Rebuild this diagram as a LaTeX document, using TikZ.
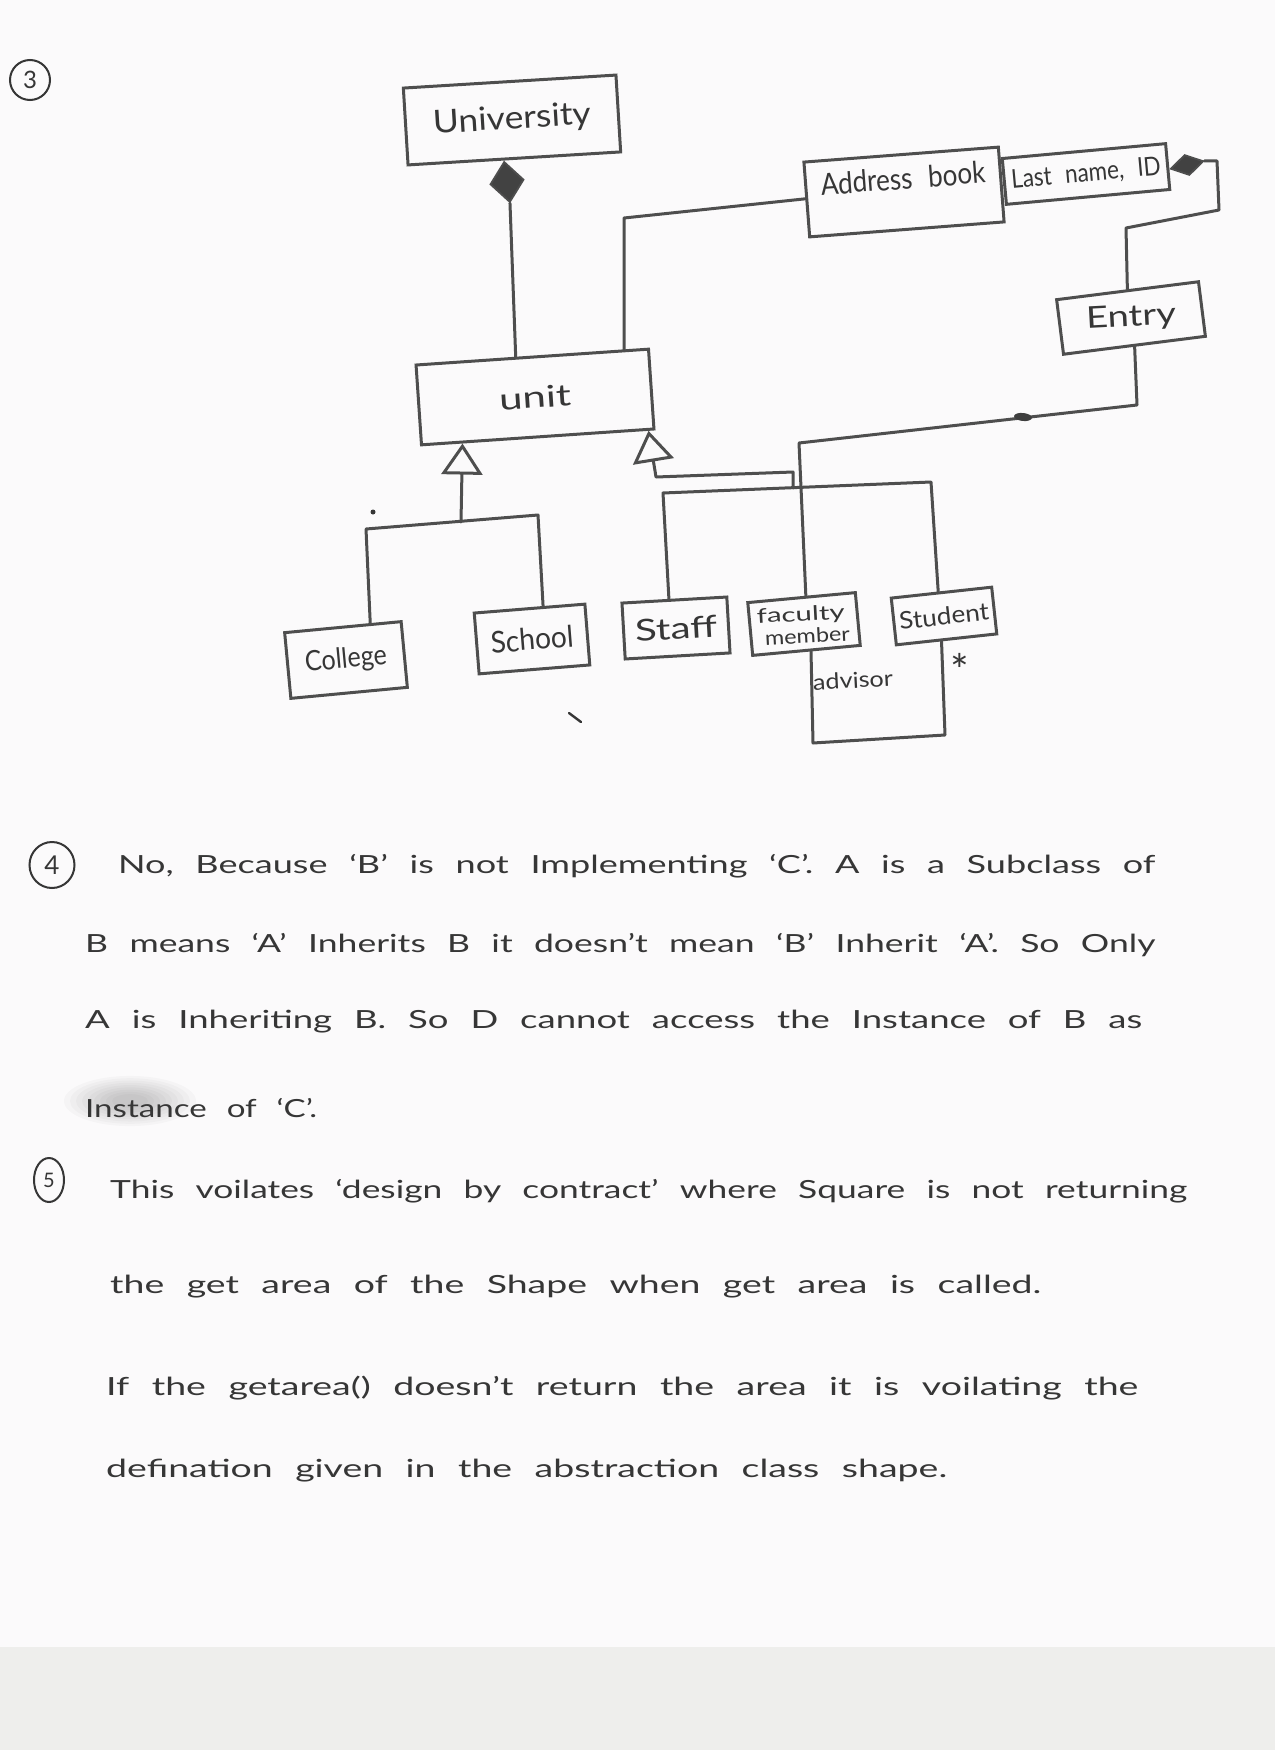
\documentclass[tikz,border=0pt]{standalone}
\usepackage{fontspec}
\setmainfont{Lato}
\usetikzlibrary{calc,shapes.geometric,arrows.meta}
\definecolor{paper}{HTML}{FBFAFB}
\definecolor{strip}{HTML}{EEEEEC}
\definecolor{pencil}{HTML}{4E4E4E}
\definecolor{ink}{HTML}{363636}
% set a text to a given width, stretching it horizontally only
\newcommand{\hw}[2]{\resizebox{#1}{\height}{{\spaceskip=0.6em\relax #2}}}
\newcommand{\fs}[1]{\fontsize{#1}{#1}\selectfont}

\begin{document}
\begin{tikzpicture}[x=1pt,y=-1pt,
  box/.style={draw=pencil, line width=3pt, inner sep=0pt, text=ink, rectangle},
  wire/.style={draw=pencil, line width=3pt, line join=round, line cap=round},
  gen/.style={wire, -{Triangle[open, length=31pt, width=41pt]}},
  comp/.style={diamond, draw=pencil, fill=pencil!85!black, line width=1.8pt, inner sep=0pt},
  numc/.style={ellipse, draw=ink, line width=2pt, inner sep=0pt, text=ink},
  lbl/.style={inner sep=0pt, text=ink},
  body/.style={anchor=base west, inner sep=0pt, text=ink, font=\fs{25}}]

% sheet and the strip below it
\useasboundingbox (0,0) rectangle (1275,1750);
\fill[paper] (0,0) rectangle (1275,1647);
\fill[strip] (0,1647) rectangle (1275,1750);

% ---------- question 3: class diagram ----------
\node[numc, minimum width=40pt, minimum height=40pt, font=\fs{24}] (n3) at (30,80) {3};

\node[box, minimum width=213pt, minimum height=77pt, rotate=3.5, font=\fs{32}] (univ) at (512,120) {\hw{158pt}{University}};
\node[comp, minimum width=34pt, minimum height=41pt, rotate=8] (dia1) at (507,182) {};

\node[box, minimum width=233pt, minimum height=80pt, rotate=3.9, font=\fs{30}] (unit) at (535,397) {\hw{72pt}{unit}};

\node[box, minimum width=195pt, minimum height=75pt, rotate=4.4, font=\fs{30}] (ab) at (904,192) {\raisebox{28pt}{\hw{165pt}{Address book}}};
\node[box, minimum width=164pt, minimum height=46pt, rotate=5.2, font=\fs{26}] (ln) at (1086,174) {\hw{150pt}{Last name, ID}};
\node[comp, minimum width=34pt, minimum height=21pt, rotate=13] (dia2) at (1187,165) {};

\node[box, minimum width=143pt, minimum height=55pt, rotate=7.2] (entry) at (1131,318) {};
\node[lbl, rotate=3, font=\fs{30}] (entrytxt) at (entry.center) {\hw{90pt}{Entry}};

\node[box, minimum width=117pt, minimum height=66pt, rotate=5.4, font=\fs{28}] (college) at (346,660) {\hw{82pt}{College}};
\node[box, minimum width=111pt, minimum height=61pt, rotate=4.6, font=\fs{30}] (school) at (532,639) {\hw{83pt}{School}};
\node[box, minimum width=105pt, minimum height=56pt, rotate=3.3, font=\fs{30}] (staff) at (676,628) {\hw{82pt}{Staff}};
\node[box, minimum width=108pt, minimum height=53pt, rotate=5.3] (fac) at (804,624) {};
\node[lbl, rotate=3, font=\fs{20}, anchor=base] (factxt1) at (801,621) {\hw{88pt}{faculty}};
\node[lbl, rotate=3, font=\fs{20}, anchor=north] (factxt2) at (807,628) {\hw{85pt}{member}};
\node[box, minimum width=101pt, minimum height=47pt, rotate=6.2, font=\fs{24}] (student) at (944,616) {\hw{90pt}{Student}};

% bend points
\coordinate (k1) at (624,218);
\coordinate (k2) at (1217,161);
\coordinate (k3) at (1219,210);
\coordinate (k4) at (1126,228);
\coordinate (k5) at (1137,405);
\coordinate (k6) at (799,443);
\coordinate (c1) at (366,529);
\coordinate (c2) at (538,515);
\coordinate (j1) at (461,522);
\coordinate (s1) at (663,493);
\coordinate (s2) at (931,482);
\coordinate (j2) at (793,488);
\coordinate (t1) at (793,472);
\coordinate (t2) at (656,477);
\coordinate (a1) at (813,743);
\coordinate (a2) at (945,735);

% composition: University - unit
\draw[wire] (dia1.south) -- ($(unit.north west)!0.43!(unit.north east)$);
% unit - Address book
\draw[wire] ($(unit.north west)!0.89!(unit.north east)$) -- (k1) -- ($(ab.north west)!0.49!(ab.south west)$);
% qualified composition: Address book - Entry
\draw[wire] (dia2.east) -- (k2) -- (k3) -- (k4) -- (entry.north);
% Entry - faculty member
\draw[wire] (entry.south) -- (k5) -- (k6) -- ($(fac.north west)!0.54!(fac.north east)$);
\fill[pencil!80!black, rotate around={-6:(1023,417)}] (1023,417) ellipse [x radius=9pt, y radius=4pt];

% generalisation: College, School
\draw[wire] ($(college.north west)!0.73!(college.north east)$) -- (c1) -- (c2) -- ($(school.north west)!0.62!(school.north east)$);
\draw[gen] (j1) -- ($(unit.south west)!0.18!(unit.south east)$);
% generalisation: Staff, Student
\draw[wire] ($(staff.north west)!0.45!(staff.north east)$) -- (s1) -- (s2) -- ($(student.north west)!0.47!(student.north east)$);
\draw[gen] (j2) -- (t1) -- (t2) -- ($(unit.south west)!0.97!(unit.south east)$);

% association: advisor
\draw[wire] ($(fac.south west)!0.54!(fac.south east)$) -- (a1) -- (a2) -- ($(student.south west)!0.45!(student.south east)$);
\node[lbl, rotate=3, font=\fs{22}] (adv) at (853,680) {\hw{80pt}{advisor}};
\node[lbl, font=\fs{44}] (mult) at (960,670) {*};

% stray pencil marks
\fill[ink] (373,512) circle (2.5pt);
\draw[ink, line width=2.4pt, line cap=round] (569,713) -- (581,722);

% ---------- question 4 ----------
\node[numc, minimum width=45pt, minimum height=46pt, font=\fs{26}] (n4) at (52,865) {4};
% eraser smear under the last line
\foreach \r in {66,60,...,18}
  \fill[black, opacity=0.022] (130,1101) ellipse [x radius=\r pt, y radius=0.38*\r pt];
\node[body] (l1) at (118,873) {\hw{1037pt}{No, Because `B' is not Implementing `C'. A is a Subclass of}};
\node[body] (l2) at (85,952)  {\hw{1070pt}{B means `A' Inherits B it doesn't mean `B' Inherit `A'. So Only}};
\node[body] (l3) at (85,1028) {\hw{1057pt}{A is Inheriting B. So D cannot access the Instance of B as}};
\node[body] (l4) at (85,1117) {\hw{232pt}{Instance of `C'.}};

% ---------- question 5 ----------
\node[numc, minimum width=30pt, minimum height=44pt, font=\fs{20}] (n5) at (49,1180) {5};
\node[body] (l5) at (110,1198) {\hw{1077pt}{This voilates `design by contract' where Square is not returning}};
\node[body] (l6) at (110,1293) {\hw{931pt}{the get area of the Shape when get area is called.}};
\node[body] (l7) at (106,1395) {\hw{1032pt}{If the getarea() doesn't return the area it is voilating the}};
\node[body] (l8) at (106,1477) {\hw{841pt}{defination given in the abstraction class shape.}};
\end{tikzpicture}
\end{document}
